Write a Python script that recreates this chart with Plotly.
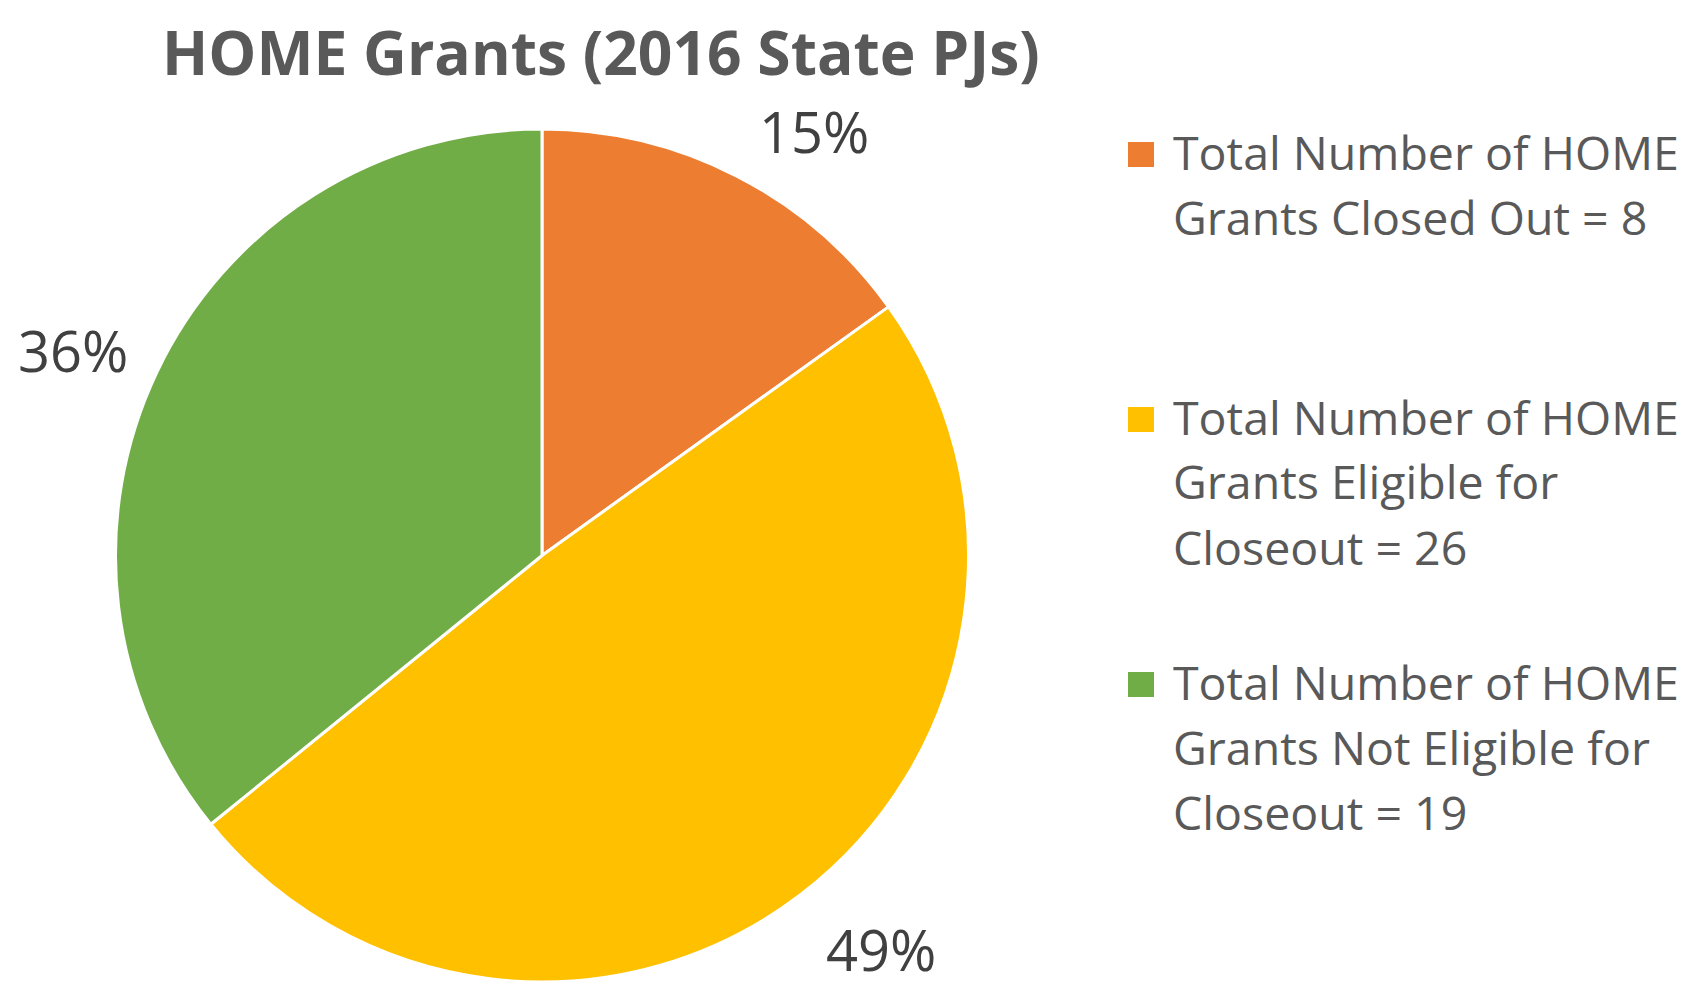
import math
import plotly.graph_objects as go

# ---- data ----
categories = [
    "Total Number of HOME Grants Closed Out = 8",
    "Total Number of HOME Grants Eligible for Closeout = 26",
    "Total Number of HOME Grants Not Eligible for Closeout = 19",
]
legend_lines = [
    ["Total Number of HOME", "Grants Closed Out = 8"],
    ["Total Number of HOME", "Grants Eligible for", "Closeout = 26"],
    ["Total Number of HOME", "Grants Not Eligible for", "Closeout = 19"],
]
values = [8, 26, 19]
colors = ["#ED7D31", "#FFC000", "#70AD47"]
title_text = "HOME Grants (2016 State PJs)"

# page body has an 8px default margin; work in screen pixels and convert
OFF = 8
Wf, Hf = 1698, 981


def px_x(sx):
    return (sx - OFF) / Wf


def px_y(sy):
    return 1 - (sy - OFF) / Hf


cx, cy, R = 542, 555.5, 426.5  # pie centre/radius in screen px

fig = go.Figure()
fig.add_trace(go.Pie(
    labels=categories,
    values=values,
    marker=dict(colors=colors, line=dict(color="white", width=3)),
    sort=False,
    direction="clockwise",
    rotation=0,
    textinfo="none",
    hoverinfo="label+value+percent",
    showlegend=False,
    domain=dict(x=[px_x(cx - R), px_x(cx + R)], y=[px_y(cy + R), px_y(cy - R)]),
))

annotations = []
# percentage labels placed outside the end of each slice
total = sum(values)
cum = 0
for v in values:
    frac_mid = (cum + v / 2) / total
    cum += v
    ang = 2 * math.pi * frac_mid
    s, c = math.sin(ang), math.cos(ang)
    ex, ey = cx + R * s, cy - R * c
    lx = ex + 70 * (1 if s >= 0 else -1) + 16 * s
    ly = ey - (51 if c > 0 else 67) * c + (3 if c > 0 else 4)
    annotations.append(dict(
        x=px_x(lx), y=px_y(ly - 3), xref="paper", yref="paper",
        text=f"{round(100 * v / total)}%", showarrow=False,
        xanchor="center", yanchor="middle",
        font=dict(family="Open Sans", size=56, color="#404040"),
    ))

# legend (drawn manually to reproduce the even vertical spacing)
item_tops = [154, 419, 684]
line_gap = 65
shapes = []
for i, lines in enumerate(legend_lines):
    y0 = item_tops[i]
    shapes.append(dict(
        type="rect", xref="paper", yref="paper",
        x0=px_x(1128), x1=px_x(1154), y0=px_y(y0 + 13), y1=px_y(y0 - 12),
        fillcolor=colors[i], line=dict(width=0),
    ))
    for j, ln in enumerate(lines):
        annotations.append(dict(
            x=px_x(1171), y=px_y(y0 + j * line_gap - 2.5), xref="paper", yref="paper",
            text=ln, showarrow=False, xanchor="left", yanchor="middle",
            font=dict(family="Open Sans", size=46.5, color="#595959"),
        ))

annotations.append(dict(
    x=px_x(601), y=1, xref="paper", yref="paper",
    text=f"<b>{title_text}</b>", showarrow=False, xanchor="center", yanchor="top",
    font=dict(family="Open Sans", size=60.5, color="#595959"),
))

fig.update_layout(
    width=Wf, height=Hf,
    margin=dict(l=0, r=0, t=0, b=0),
    paper_bgcolor="white", plot_bgcolor="white",
    annotations=annotations, shapes=shapes,
    showlegend=False,
)

fig.write_html("out.html")
